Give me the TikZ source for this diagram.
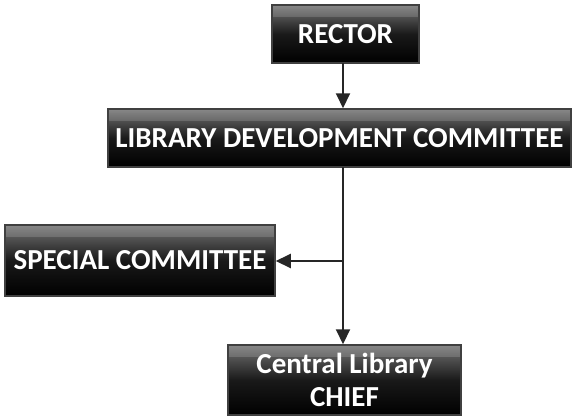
\documentclass[tikz,border=0pt]{standalone}
\usepackage{fontspec}
\setmainfont{Carlito}
\usetikzlibrary{arrows.meta}

\begin{document}
\begin{tikzpicture}[x=1pt,y=-1pt,
  box/.style={draw=black!75, line width=1.5pt, top color=black!55, bottom color=black, middle color=black!90,
    text=white, font=\fontsize{29}{33}\selectfont\bfseries, align=center, inner sep=0pt,
    path picture={\fill[white,opacity=.15] (path picture bounding box.north west) rectangle ([yshift=-12pt]path picture bounding box.north east);}},
  link/.style={line width=2pt, draw=black!85, -{Triangle[length=15pt,width=14pt]}}]
  \useasboundingbox (0,0) rectangle (572,416);
  \node[box, minimum width=147pt, minimum height=58pt] (rector) at (345.5,34) {RECTOR};
  \node[box, minimum width=463pt, minimum height=58pt] (ldc) at (339.5,138) {LIBRARY DEVELOPMENT COMMITTEE};
  \node[box, minimum width=270pt, minimum height=71pt] (special) at (140,260.5) {SPECIAL COMMITTEE};
  \node[box, minimum width=233pt, minimum height=70pt] (chief) at (344.5,380) {Central Library\\CHIEF};
  \coordinate (top) at (343,63);
  \coordinate (mid) at (343,167);
  \coordinate (split) at (343,261);
  \draw[link] (top) -- (top |- ldc.north);
  \draw[link] (mid) -- (mid |- chief.north);
  \draw[link] (split) -- (special.east |- split);
\end{tikzpicture}
\end{document}
